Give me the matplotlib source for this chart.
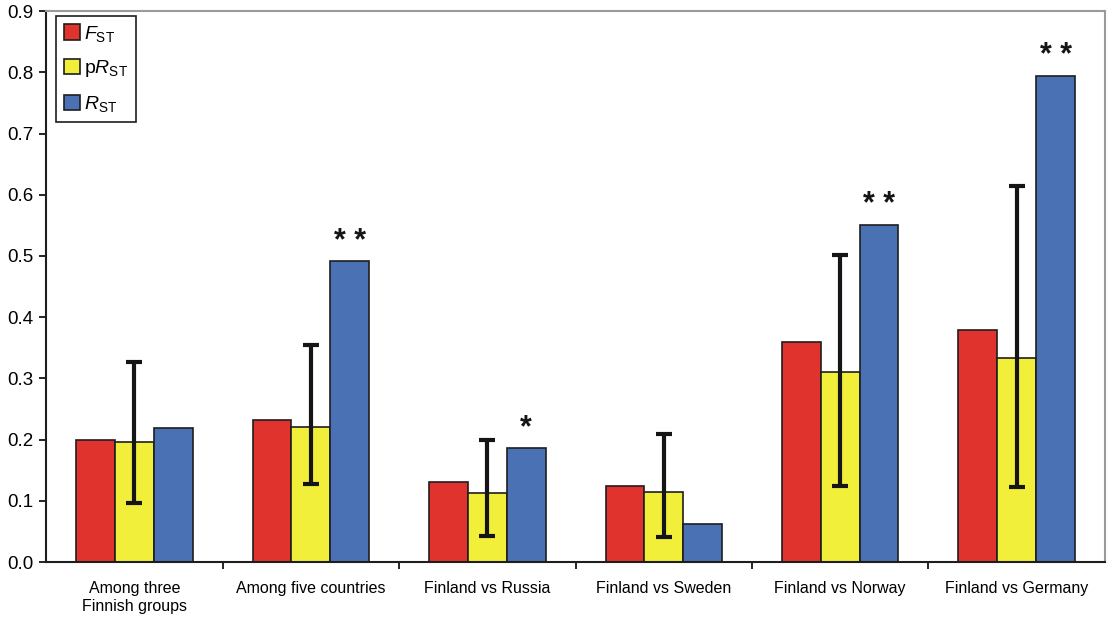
import numpy as np
import matplotlib
matplotlib.use("Agg")
import matplotlib.pyplot as plt

plt.rcParams['font.family'] = ['Liberation Sans', 'DejaVu Sans']
plt.rcParams['mathtext.fontset'] = 'custom'
plt.rcParams['mathtext.rm'] = 'Liberation Sans'
plt.rcParams['mathtext.it'] = 'Liberation Sans:italic'

categories = ['Among three\nFinnish groups', 'Among five countries', 'Finland vs Russia',
              'Finland vs Sweden', 'Finland vs Norway', 'Finland vs Germany']
fst = [0.199, 0.232, 0.130, 0.125, 0.359, 0.379]
prst = [0.196, 0.221, 0.112, 0.115, 0.310, 0.333]
rst = [0.219, 0.491, 0.186, 0.062, 0.550, 0.794]
prst_low = [0.097, 0.127, 0.043, 0.041, 0.125, 0.122]
prst_high = [0.326, 0.354, 0.199, 0.209, 0.501, 0.614]
stars = ['', '**', '*', '', '**', '**']

fig = plt.figure(figsize=(11.15, 6.17), dpi=100)
ax = fig.add_axes([0.0413, 0.0891, 0.9497, 0.8929])

x = np.arange(len(categories))
w = 0.22
ec = '#1e1e1e'
ax.bar(x - w, fst, w, color='#e0332e', edgecolor=ec, linewidth=1.2, label=r'$F_{\mathrm{ST}}$')
ax.bar(x, prst, w, color='#f2ef3a', edgecolor=ec, linewidth=1.2, label=r'p$R_{\mathrm{ST}}$')
ax.bar(x + w, rst, w, color='#4a71b4', edgecolor=ec, linewidth=1.2, label=r'$R_{\mathrm{ST}}$')

prst_arr = np.array(prst)
yerr = [prst_arr - np.array(prst_low), np.array(prst_high) - prst_arr]
ax.errorbar(x, prst, yerr=yerr, fmt='none', ecolor='#151515', elinewidth=3,
            capsize=6, capthick=3)

for i, s in enumerate(stars):
    if s:
        ax.text(x[i] + w, rst[i] + 0.008, ' '.join(s), ha='center', va='bottom',
                fontsize=22, fontweight='bold', color='#151515')

ax.set_xlim(-0.5, len(categories) - 0.5)
ax.set_ylim(0, 0.9)
ax.set_yticks(np.arange(0, 0.91, 0.1))
ax.set_yticklabels(['%.1f' % v for v in np.arange(0, 0.91, 0.1)], fontsize=13.5)
ax.set_xticks(x)
ax.set_xticklabels(categories, fontsize=11.5)
ax.tick_params(axis='x', which='major', length=0, pad=14)
ax.set_xticks(np.arange(0.5, len(categories) - 0.5, 1), minor=True)
ax.tick_params(axis='x', which='minor', length=5, width=1.2, direction='out')
ax.tick_params(axis='y', length=5, width=1.2, direction='out', pad=4)

for side in ['top', 'right']:
    ax.spines[side].set_color('#9a9a9a')
    ax.spines[side].set_linewidth(1.5)
for side in ['left', 'bottom']:
    ax.spines[side].set_color('#1e1e1e')
    ax.spines[side].set_linewidth(1.5)

leg = ax.legend(loc='upper left', bbox_to_anchor=(0.0094, 0.991), borderaxespad=0,
                fontsize=14, fancybox=False, framealpha=1, edgecolor='#1e1e1e',
                handlelength=0.85, handleheight=0.85, handletextpad=0.2,
                labelspacing=0.75, borderpad=0.4)
leg.get_frame().set_linewidth(1.2)

fig.savefig('out.png', dpi=100)
